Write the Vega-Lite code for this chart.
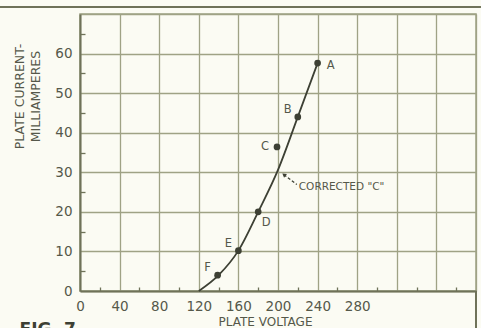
{
  "$schema": "https://vega.github.io/schema/vega-lite/v6.json",
  "width": 396,
  "height": 277,
  "autosize": {"type": "none"},
  "padding": {"left": 80, "top": 14, "right": 5, "bottom": 37},
  "background": "#fbfbf3",
  "config": {
    "view": {"stroke": "#9fa285", "strokeWidth": 1.5},
    "font": "DejaVu Sans",
    "axis": {"labelFont": "DejaVu Sans", "titleFont": "DejaVu Sans"}
  },
  "datasets": {
    "curve": [
      {"v": 120, "ma": 0},
      {"v": 140, "ma": 4},
      {"v": 160, "ma": 10.2},
      {"v": 180, "ma": 20},
      {"v": 200, "ma": 30.6},
      {"v": 220, "ma": 44},
      {"v": 240, "ma": 57.6}
    ],
    "points": [
      {"v": 240, "ma": 57.6, "label": "A"},
      {"v": 220, "ma": 44, "label": "B"},
      {"v": 199, "ma": 36.4, "label": "C"},
      {"v": 180, "ma": 20, "label": "D"},
      {"v": 160, "ma": 10.2, "label": "E"},
      {"v": 139, "ma": 4, "label": "F"}
    ],
    "leader": [{"v": 206, "ma": 29.4, "v2": 219, "ma2": 26.9}],
    "notes": [
      {"v": 221, "ma": 26.4, "text": "CORRECTED \"C\""}
    ],
    "fig": [{"v": -61, "ma": -7.8, "text": "FIG. 7"}],
    "frame": [
      {"v": -81, "v2": 405, "ma": 71.8, "ma2": 71.8},
      {"v": 400, "v2": 400, "ma": 0, "ma2": -10}
    ]
  },
  "layer": [
    {
      "data": {"name": "curve"},
      "mark": {"type": "line", "interpolate": "monotone", "color": "#3d4034", "strokeWidth": 1.8},
      "encoding": {
        "x": {
          "field": "v", "type": "quantitative",
          "scale": {"domain": [0, 400], "nice": false, "zero": false},
          "axis": {
            "title": "PLATE VOLTAGE",
            "values": [0,20,40,60,80,100,120,140,160,180,200,220,240,260,280,300,320,340,360,380,400],
            "tickCount": 100,
            "format": "d",
            "grid": true,
            "gridColor": "#9fa285",
            "gridWidth": 1.3,
            "gridOpacity": {"condition": {"test": "datum.value % 40 === 0", "value": 1}, "value": 0},
            "ticks": true,
            "tickColor": "#6f7259",
            "tickWidth": 1.3,
            "tickSize": {"condition": {"test": "datum.value % 40 === 0", "value": 0}, "value": -4},
            "labelExpr": "datum.value % 40 === 0 && datum.value <= 280 ? datum.label : ''",
            "labelFlush": false,
            "labelOverlap": false,
            "labelPadding": 8,
            "labelFontSize": 13.5,
            "labelColor": "#55584a",
            "domainColor": "#6f7259",
            "domainWidth": 2,
            "titleFontSize": 12,
            "titleFontWeight": "normal",
            "titleColor": "#55584a",
            "titleX": 185,
            "titleY": 25,
            "titleBaseline": "top",
            "titleAnchor": null
          }
        },
        "y": {
          "field": "ma", "type": "quantitative",
          "scale": {"domain": [0, 70], "nice": false, "zero": false},
          "axis": {
            "title": ["PLATE CURRENT-", "MILLIAMPERES"],
            "values": [0,5,10,15,20,25,30,35,40,45,50,55,60,65,70],
            "tickCount": 100,
            "format": "d",
            "grid": true,
            "gridColor": "#9fa285",
            "gridWidth": 1.3,
            "gridOpacity": {"condition": {"test": "datum.value % 10 === 0", "value": 1}, "value": 0},
            "ticks": true,
            "tickColor": "#6f7259",
            "tickWidth": 1.3,
            "tickSize": {"condition": {"test": "datum.value % 10 === 0", "value": 0}, "value": -5},
            "labelExpr": "datum.value % 10 === 0 && datum.value <= 60 ? datum.label : ''",
            "labelFlush": false,
            "labelOverlap": false,
            "labelPadding": 8,
            "labelFontSize": 13.5,
            "labelColor": "#55584a",
            "domainColor": "#6f7259",
            "domainWidth": 2,
            "titleFontSize": 12.5,
            "titleFontWeight": "normal",
            "titleColor": "#55584a",
            "titleLineHeight": 16,
            "titleAngle": -90,
            "titleX": -67,
            "titleY": 82,
            "titleAlign": "center",
            "titleBaseline": "top",
            "titleAnchor": null
          }
        }
      }
    },
    {
      "data": {"name": "points"},
      "mark": {"type": "point", "filled": true, "color": "#3d4034", "size": 45, "opacity": 1},
      "encoding": {
        "x": {"field": "v", "type": "quantitative"},
        "y": {"field": "ma", "type": "quantitative"}
      }
    },
    {
      "data": {"name": "points"},
      "transform": [{"filter": "datum.label === 'A'"}],
      "mark": {"type": "text", "align": "center", "baseline": "middle", "dx": 13, "dy": 3, "fontSize": 11.5, "color": "#55584a"},
      "encoding": {
        "x": {"field": "v", "type": "quantitative"},
        "y": {"field": "ma", "type": "quantitative"},
        "text": {"field": "label"}
      }
    },
    {
      "data": {"name": "points"},
      "transform": [{"filter": "indexof(['B','E','F'], datum.label) >= 0"}],
      "mark": {"type": "text", "align": "center", "baseline": "middle", "dx": -10, "dy": -7, "fontSize": 11.5, "color": "#55584a"},
      "encoding": {
        "x": {"field": "v", "type": "quantitative"},
        "y": {"field": "ma", "type": "quantitative"},
        "text": {"field": "label"}
      }
    },
    {
      "data": {"name": "points"},
      "transform": [{"filter": "datum.label === 'C'"}],
      "mark": {"type": "text", "align": "center", "baseline": "middle", "dx": -12, "dy": 0, "fontSize": 11.5, "color": "#55584a"},
      "encoding": {
        "x": {"field": "v", "type": "quantitative"},
        "y": {"field": "ma", "type": "quantitative"},
        "text": {"field": "label"}
      }
    },
    {
      "data": {"name": "points"},
      "transform": [{"filter": "datum.label === 'D'"}],
      "mark": {"type": "text", "align": "center", "baseline": "middle", "dx": 8, "dy": 11, "fontSize": 11.5, "color": "#55584a"},
      "encoding": {
        "x": {"field": "v", "type": "quantitative"},
        "y": {"field": "ma", "type": "quantitative"},
        "text": {"field": "label"}
      }
    },
    {
      "data": {"name": "leader"},
      "mark": {"type": "rule", "color": "#3d4034", "strokeWidth": 1.3, "strokeDash": [3, 2]},
      "encoding": {
        "x": {"field": "v", "type": "quantitative"},
        "y": {"field": "ma", "type": "quantitative"},
        "x2": {"field": "v2"},
        "y2": {"field": "ma2"}
      }
    },
    {
      "data": {"name": "leader"},
      "mark": {"type": "point", "shape": "triangle-up", "filled": true, "color": "#3d4034", "size": 22, "angle": -52, "opacity": 1},
      "encoding": {
        "x": {"field": "v", "type": "quantitative"},
        "y": {"field": "ma", "type": "quantitative"}
      }
    },
    {
      "data": {"name": "notes"},
      "mark": {"type": "text", "align": "left", "baseline": "middle", "fontSize": 10.5, "color": "#55584a"},
      "encoding": {
        "x": {"field": "v", "type": "quantitative"},
        "y": {"field": "ma", "type": "quantitative"},
        "text": {"field": "text"}
      }
    },
    {
      "data": {"name": "fig"},
      "mark": {"type": "text", "align": "left", "baseline": "top", "fontSize": 17, "fontWeight": "bold", "color": "#3d4034"},
      "encoding": {
        "x": {"field": "v", "type": "quantitative"},
        "y": {"field": "ma", "type": "quantitative"},
        "text": {"field": "text"}
      }
    },
    {
      "data": {"name": "frame"},
      "mark": {"type": "rule", "color": "#6f7259", "strokeWidth": 2},
      "encoding": {
        "x": {"field": "v", "type": "quantitative"},
        "y": {"field": "ma", "type": "quantitative"},
        "x2": {"field": "v2"},
        "y2": {"field": "ma2"}
      }
    }
  ]
}
